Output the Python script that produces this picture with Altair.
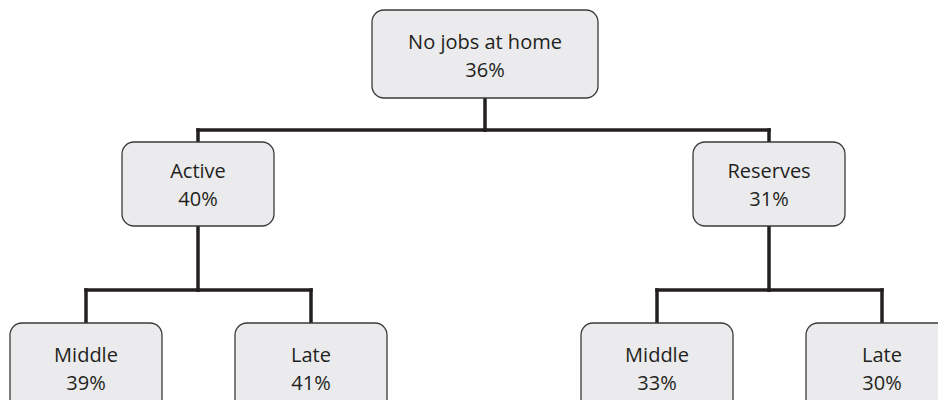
import altair as alt
import pandas as pd

# --- data ---
labels = ["No jobs at home", "Active", "Reserves", "Middle", "Late", "Middle", "Late"]
values = [36, 40, 31, 39, 41, 33, 30]
parents = [None, 0, 0, 1, 1, 2, 2]

# --- layout (page pixel coordinates) ---
centers_x = [485, 198, 769, 86, 311, 657, 882]
levels = [0, 1, 1, 2, 2, 2, 2]
box_w = [226, 152, 152, 152, 152, 152, 152]
level_top = [10, 142, 323]
level_bot = [98, 226, 412]
text_mid = [57, 186, 370]
bus_y = [130, 290]

boxes = pd.DataFrame({
    "label": labels,
    "value": values,
    "x": [c - w / 2 for c, w in zip(centers_x, box_w)],
    "x2": [c + w / 2 for c, w in zip(centers_x, box_w)],
    "y": [level_top[l] for l in levels],
    "y2": [level_bot[l] for l in levels],
    "cx": centers_x,
})
boxes["ty1"] = [text_mid[l] - 14 for l in levels]
boxes["ty2"] = [text_mid[l] + 14 for l in levels]
boxes["pct"] = [f"{v}%" for v in values]

segs = []
for i, p in enumerate(parents):
    if p is None:
        continue
    lp = levels[p]
    by = bus_y[lp]
    segs.append((centers_x[p], level_bot[lp], centers_x[p], by))
    segs.append((centers_x[i], by, centers_x[i], level_top[levels[i]]))
    segs.append((min(centers_x[p], centers_x[i]), by, max(centers_x[p], centers_x[i]), by))
segs = pd.DataFrame(segs, columns=["x", "y", "x2", "y2"]).drop_duplicates()

W, H = 930, 392
xs = alt.Scale(domain=[8, 8 + W], range=[0, W])
ys = alt.Scale(domain=[8, 8 + H], reverse=True)

lines = alt.Chart(segs).mark_rule(color="#231f20", strokeWidth=3.5, strokeCap="square").encode(
    x=alt.X("x:Q", scale=xs, axis=None),
    x2="x2:Q",
    y=alt.Y("y:Q", scale=ys, axis=None),
    y2="y2:Q",
)

rects = alt.Chart(boxes).mark_rect(
    fill="#ebebed", stroke="#3a3a3a", strokeWidth=1.3, cornerRadius=12
).encode(
    x=alt.X("x:Q", scale=xs, axis=None),
    x2="x2:Q",
    y=alt.Y("y:Q", scale=ys, axis=None),
    y2="y2:Q",
)

t1 = alt.Chart(boxes).mark_text(
    font="Open Sans", fontSize=20, color="#231f20", baseline="middle"
).encode(
    x=alt.X("cx:Q", scale=xs, axis=None),
    y=alt.Y("ty1:Q", scale=ys, axis=None),
    text="label:N",
)
t2 = alt.Chart(boxes).mark_text(
    font="Open Sans", fontSize=20, color="#231f20", baseline="middle"
).encode(
    x=alt.X("cx:Q", scale=xs, axis=None),
    y=alt.Y("ty2:Q", scale=ys, axis=None),
    text="pct:N",
)

chart = alt.layer(lines, rects, t1, t2).properties(
    width=W, height=H, padding=0, autosize=alt.AutoSizeParams(type="none")
).configure_view(stroke=None)

chart.save("out.html", embed_options={"renderer": "svg", "actions": False})
